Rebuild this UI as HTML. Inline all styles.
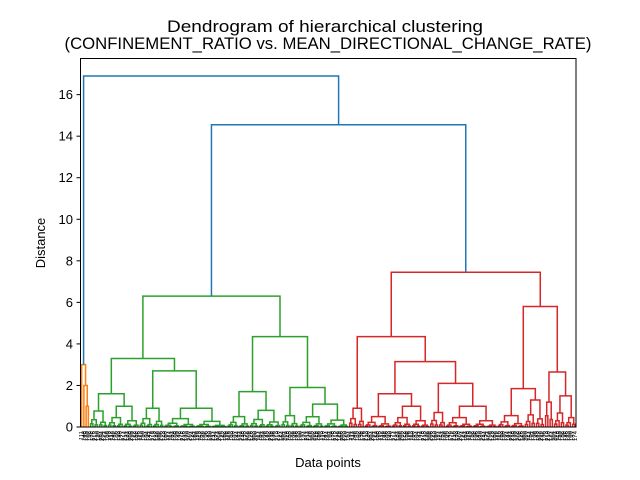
<!DOCTYPE html>
<html><head><meta charset="utf-8"><style>
body{margin:0;background:#fff}
svg{display:block;font-family:"Liberation Sans","DejaVu Sans",sans-serif}
</style></head><body>
<svg id="c" width="640" height="480">
<rect width="640" height="480" fill="#fff"/>
<text x="325" y="32" text-anchor="middle" font-size="16.5" textLength="316" lengthAdjust="spacingAndGlyphs">Dendrogram of hierarchical clustering</text>
<text x="328" y="49" text-anchor="middle" font-size="16.5" textLength="527" lengthAdjust="spacingAndGlyphs">(CONFINEMENT_RATIO vs. MEAN_DIRECTIONAL_CHANGE_RATE)</text>
<text x="45" y="243" text-anchor="middle" font-size="13" transform="rotate(-90 45 243)">Distance</text>
<text x="328" y="467" text-anchor="middle" font-size="13">Data points</text>
<g id="links"></g>
<g id="yaxis"></g>
<g id="xlabels"></g>
<rect x="80.5" y="58.5" width="495.5" height="368.5" fill="none" stroke="#000" stroke-width="1"/>
</svg>
<script>
const yTicks = [0, 2, 4, 6, 8, 10, 12, 14, 16];
const terminalHeights = [0.77, 1.0, 0.9, 0.9, 0.5, 0.8, 0.55, 1.1, 0.9, 0.5, 1.0, 0.7, 1.0, 0.55, 1.3, 1.2, 1.5];
const terminalCounts  = [8, 14, 11, 28, 10, 14, 8, 22, 7, 12, 17, 7, 23, 12, 9, 4, 10];
const upperHeights = {root:16.9, right:14.55, green:6.3, gl:3.3, ga:1.6, gb:2.7, gr:4.35, gc:1.7, gd:1.9,
  red:7.45, rl:4.35, rf:3.15, rf1:1.6, rf2:2.1, rr:5.8, rg:1.85, rh:2.65};
const orangeHeights = [3.0, 2.0, 1.0];

const T = i => ({h: terminalHeights[i], n: terminalCounts[i]});
const H = upperHeights;
const orange = [orangeHeights[0], {h:0,n:1}, [orangeHeights[1], {h:0,n:1}, [orangeHeights[2], {h:0,n:1}, {h:0,n:1}, 'o'], 'o'], 'o'];
const green = [H.green,
  [H.gl, [H.ga, T(0), T(1), 'g'], [H.gb, T(2), T(3), 'g'], 'g'],
  [H.gr, [H.gc, T(4), T(5), 'g'], [H.gd, T(6), T(7), 'g'], 'g'], 'g'];
const red = [H.red,
  [H.rl, T(8), [H.rf, [H.rf1, T(9), T(10), 'r'], [H.rf2, T(11), T(12), 'r'], 'r'], 'r'],
  [H.rr, [H.rg, T(13), T(14), 'r'], [H.rh, T(15), T(16), 'r'], 'r'], 'r'];
const tree = [H.root, orange, [H.right, green, red, 'b'], 'b'];

const colors = {b:'#1f77b4', o:'#ff7f0e', g:'#2ca02c', r:'#d62728'};
function count(t){ if(!Array.isArray(t)) return t.n; return count(t[1]) + count(t[2]); }
const N = count(tree);
const X0 = 80.5, X1 = 576, Y0 = 427, YMAX = 17.74;
const xLeaf = i => X0 + (i + 0.5) * (X1 - X0) / N;
const yVal = v => Y0 - v * (Y0 - 58.5) / YMAX;
const links = document.getElementById('links');
let leafIdx = 0;
function drawU(xl,hl,xr,hr,h,col){
  const p = document.createElementNS('http://www.w3.org/2000/svg','path');
  p.setAttribute('d', `M${xl},${yVal(hl)}V${yVal(h)}H${xr}V${yVal(hr)}`);
  p.setAttribute('fill','none'); p.setAttribute('stroke',col); p.setAttribute('stroke-width','1.5');
  
  
  links.appendChild(p);
}
function drawTerminal(t, col){
  if (t.n === 1){ const x = xLeaf(leafIdx++); return [x, 0]; }
  const nl = Math.ceil(t.n/2), nr = t.n - nl;
  const a = drawTerminal({h: nl>1 ? t.h*0.45 : 0, n: nl}, col);
  const b = drawTerminal({h: nr>1 ? t.h*0.3 : 0, n: nr}, col);
  drawU(a[0], a[1], b[0], b[1], t.h, col);
  return [(a[0]+b[0])/2, t.h];
}
function colorOf(t){ return Array.isArray(t) ? colors[t[3]] : colors.b; }
function draw(t, parentCol){
  if (!Array.isArray(t)) return drawTerminal(t, parentCol);
  const col = colors[t[3]];
  const childCol = t[3] === 'b' ? null : col;
  const a = draw(t[1], childCol || colorOf(t[1]));
  const b = draw(t[2], childCol || colorOf(t[2]));
  drawU(a[0], a[1], b[0], b[1], t[0], col);
  return [(a[0]+b[0])/2, t[0]];
}
draw(tree, colors.b);

const ya = document.getElementById('yaxis');
yTicks.forEach(v => {
  const y = yVal(v);
  const tk = document.createElementNS('http://www.w3.org/2000/svg','line');
  tk.setAttribute('x1', 76.5); tk.setAttribute('x2', 80.5); tk.setAttribute('y1', y); tk.setAttribute('y2', y);
  tk.setAttribute('stroke', '#000');
  
  
  ya.appendChild(tk);
  const tx = document.createElementNS('http://www.w3.org/2000/svg','text');
  tx.setAttribute('x', 73); tx.setAttribute('y', y + 4.5); tx.setAttribute('text-anchor','end'); tx.setAttribute('font-size','13');
  tx.textContent = v;
  
  
  ya.appendChild(tx);
});
const xl = document.getElementById('xlabels');
for (let i = 0; i < N; i++){
  const x = xLeaf(i);
  const tx = document.createElementNS('http://www.w3.org/2000/svg','text');
  tx.setAttribute('x', x + 2); tx.setAttribute('y', 431);
  tx.setAttribute('font-size','6'); tx.setAttribute('text-anchor','end');
  tx.setAttribute('transform', `rotate(-90 ${x+2} 431)`);
  tx.textContent = String(100 + (i * 37 + 11) % 120);
  
  
  xl.appendChild(tx);
}
</script>
</body></html>
